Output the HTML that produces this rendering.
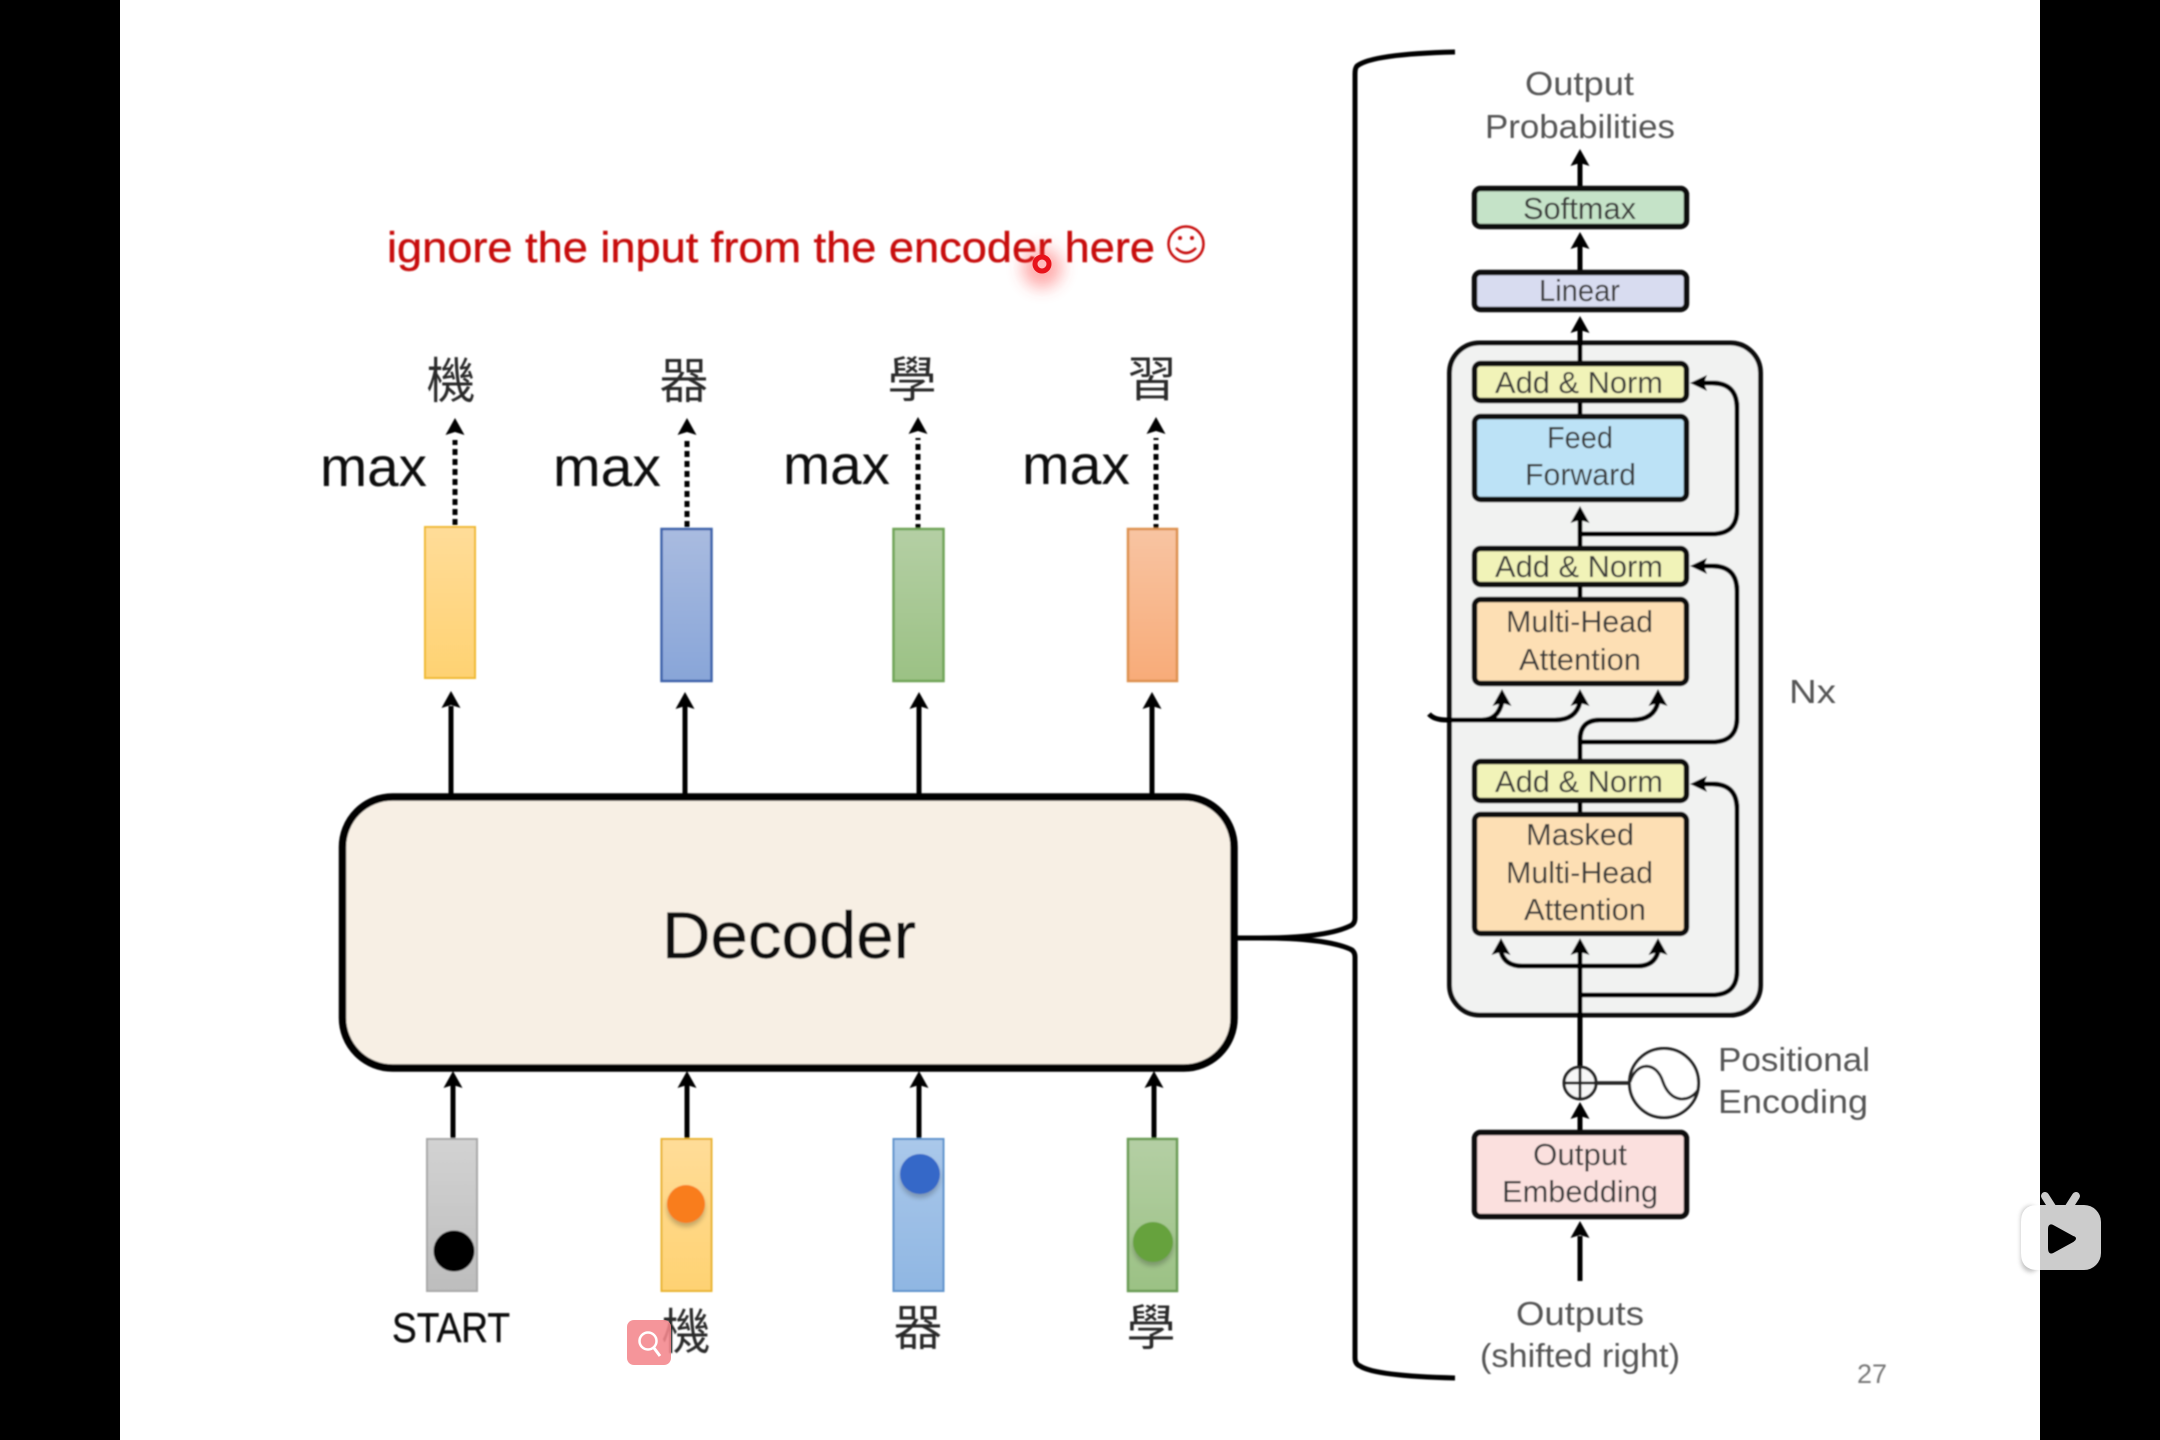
<!DOCTYPE html>
<html lang="zh-Hant"><head><meta charset="utf-8"><title>Decoder</title>
<style>html,body{margin:0;padding:0;background:#000}svg{display:block}
text{font-family:"Liberation Sans","Noto Sans CJK TC",sans-serif}
.t{font-size:31px;fill:#3a3a3a;text-anchor:start}
.cjk{font-family:"Noto Sans CJK TC","Noto Sans CJK JP",sans-serif;font-size:49px;fill:#2a2a2a;text-anchor:middle;font-weight:400}
.m{font-size:56px;fill:#111}
</style></head><body>
<svg xmlns="http://www.w3.org/2000/svg" width="2160" height="1440" viewBox="0 0 2160 1440">
<defs>
<path id="u" d="M0 0L9.500 17L0 14L-9.500 17Z" fill="#000"/>
<path id="l" d="M0 0L17 -8L14 0L17 8Z" fill="#000"/>
<filter id="b" x="-5%" y="-5%" width="110%" height="110%"><feGaussianBlur stdDeviation="0.9"/></filter>
<filter id="g" x="-100%" y="-100%" width="300%" height="300%"><feGaussianBlur stdDeviation="8"/></filter>
<filter id="s" x="-50%" y="-50%" width="200%" height="200%"><feGaussianBlur stdDeviation="2.500"/></filter>
<linearGradient id="gy" x1="0" y1="0" x2="0" y2="1"><stop offset="0" stop-color="#ffdc98"/><stop offset="1" stop-color="#fed272"/></linearGradient>
<linearGradient id="gb" x1="0" y1="0" x2="0" y2="1"><stop offset="0" stop-color="#a9bbe0"/><stop offset="1" stop-color="#88a5d8"/></linearGradient>
<linearGradient id="gg" x1="0" y1="0" x2="0" y2="1"><stop offset="0" stop-color="#b4cfa4"/><stop offset="1" stop-color="#9bc184"/></linearGradient>
<linearGradient id="go" x1="0" y1="0" x2="0" y2="1"><stop offset="0" stop-color="#f8c4a2"/><stop offset="1" stop-color="#f8ab78"/></linearGradient>
<linearGradient id="gc" x1="0" y1="0" x2="0" y2="1"><stop offset="0" stop-color="#d2d2d2"/><stop offset="1" stop-color="#bdbdbd"/></linearGradient>
<linearGradient id="gl" x1="0" y1="0" x2="0" y2="1"><stop offset="0" stop-color="#aac8ea"/><stop offset="1" stop-color="#8fb6e2"/></linearGradient>
</defs>
<rect width="2160" height="1440" fill="#000"/>
<rect x="120" width="1920" height="1440" fill="#fff"/>

<g filter="url(#b)">
<text x="387" y="262" font-size="43" fill="#c8100c" stroke="#c8100c" stroke-width=".4" textLength="768" lengthAdjust="spacingAndGlyphs">ignore the input from the encoder here</text>
<circle cx="1186" cy="244" r="17.500" fill="none" stroke="#c8100c" stroke-width="2.500"/>
<circle cx="1180" cy="238" r="2" fill="#c8100c"/><circle cx="1192" cy="238" r="2" fill="#c8100c"/>
<path d="M1176 248Q1186 258 1196 248" fill="none" stroke="#c8100c" stroke-width="2.500"/>

<text class="cjk" x="451" y="398">機</text>
<text class="cjk" x="684" y="398">器</text>
<text class="cjk" x="912" y="397">學</text>
<text class="cjk" x="1152" y="396">習</text>

<text class="m" x="320" y="486" textLength="107" lengthAdjust="spacingAndGlyphs">max</text>
<text class="m" x="553" y="486" textLength="108" lengthAdjust="spacingAndGlyphs">max</text>
<text class="m" x="783" y="484" textLength="107" lengthAdjust="spacingAndGlyphs">max</text>
<text class="m" x="1022" y="484" textLength="108" lengthAdjust="spacingAndGlyphs">max</text>

<g stroke="#000" stroke-width="5" stroke-dasharray="6 4" fill="none">
<path d="M455 525V440"/><path d="M687 527V440"/><path d="M918 530V438"/><path d="M1156 530V438"/>
</g>
<use href="#u" x="455" y="418"/><use href="#u" x="687" y="418"/><use href="#u" x="918" y="417"/><use href="#u" x="1156" y="417"/>

<rect x="425" y="527" width="50" height="151" fill="url(#gy)" stroke="#efb92e" stroke-width="2"/>
<rect x="661.500" y="529" width="50" height="152" fill="url(#gb)" stroke="#3e62aa" stroke-width="2.500"/>
<rect x="893.500" y="529" width="50" height="152" fill="url(#gg)" stroke="#6fa456" stroke-width="2.500"/>
<rect x="1128" y="529" width="49" height="152" fill="url(#go)" stroke="#dd9150" stroke-width="2.500"/>

<g stroke="#000" stroke-width="5" fill="none">
<path d="M451 800V706"/><path d="M685 800V706"/><path d="M919 800V706"/><path d="M1152 800V706"/>
<path d="M453 1138V1084"/><path d="M687 1142V1084"/><path d="M919 1142V1084"/><path d="M1154 1142V1084"/>
</g>
<use href="#u" x="451" y="691"/><use href="#u" x="685" y="692"/><use href="#u" x="919" y="692"/><use href="#u" x="1152" y="692"/>
<use href="#u" x="453" y="1071"/><use href="#u" x="687" y="1071"/><use href="#u" x="919" y="1071"/><use href="#u" x="1154" y="1071"/>

<rect x="342.500" y="797" width="891.500" height="271" rx="50" fill="#f7efe4" stroke="#000" stroke-width="7.500"/>
<text x="662" y="958" font-size="66" fill="#111" stroke="#111" stroke-width=".5" textLength="254" lengthAdjust="spacingAndGlyphs">Decoder</text>

<rect x="427" y="1139" width="50" height="152" fill="url(#gc)" stroke="#a8a8a8" stroke-width="2"/>
<rect x="661.500" y="1139" width="50" height="152" fill="url(#gy)" stroke="#e9b32e" stroke-width="2"/>
<rect x="893.500" y="1139" width="50" height="152" fill="url(#gl)" stroke="#5f93cc" stroke-width="2"/>
<rect x="1128" y="1139" width="49" height="152" fill="url(#gg)" stroke="#6b9b54" stroke-width="2.500"/>
<circle cx="686" cy="1208" r="19" fill="#000" opacity=".22" filter="url(#s)"/>
<circle cx="920" cy="1178" r="20" fill="#000" opacity=".22" filter="url(#s)"/>
<circle cx="1153" cy="1246" r="20" fill="#000" opacity=".22" filter="url(#s)"/>
<circle cx="454" cy="1251" r="20.500" fill="#000"/>
<circle cx="686" cy="1204" r="19" fill="#f97d1e"/>
<circle cx="920" cy="1174" r="20" fill="#3568c8"/>
<circle cx="1153" cy="1242" r="20" fill="#66a23c"/>

<text x="392" y="1342" font-size="42" fill="#111" stroke="#111" stroke-width=".4" textLength="118" lengthAdjust="spacingAndGlyphs">START</text>
<text class="cjk" x="686" y="1349">機</text>
<text class="cjk" x="918" y="1345">器</text>
<text class="cjk" x="1151" y="1345">學</text>

<path d="M1455 52Q1372 54 1357 66Q1355 68 1355 74V918Q1355 924 1350 926Q1325 938 1260 938H1237M1240 938H1260Q1325 938 1350 949Q1355 951 1355 957V1358Q1355 1364 1360 1366Q1375 1376 1455 1378" fill="none" stroke="#000" stroke-width="5"/>

<rect x="1449.500" y="343" width="311" height="672" rx="30" fill="#f1f2f1" stroke="#111" stroke-width="5"/>

<g fill="none" stroke="#000" stroke-width="5">
<path d="M1580 186V162"/><path d="M1580 270V246"/><path d="M1580 361V329"/>
<path d="M1580 414V403"/><path d="M1580 546V519"/><path d="M1580 597V587"/>
<path d="M1580 812V803"/><path d="M1580 1066V952"/><path d="M1580 1131V1115"/><path d="M1580 1281V1236"/>
<path d="M1580 534H1712Q1737 534 1737 510V408Q1737 383 1712 383H1700"/>
<path d="M1580 742H1712Q1737 742 1737 718V591Q1737 566 1712 566H1700"/>
<path d="M1580 995H1712Q1737 995 1737 971V809Q1737 784 1712 784H1700"/>
<path d="M1580 759V740Q1580 720 1600 720H1632Q1654 720 1658 702"/>
<path d="M1429 714Q1434 720 1447 720H1555Q1576 720 1580 702"/>
<path d="M1472 720H1482Q1498 720 1502 702"/>
<path d="M1501 952Q1505 966 1522 966H1638Q1654 966 1658 952"/>
</g>
<use href="#u" x="1580" y="149"/><use href="#u" x="1580" y="232"/><use href="#u" x="1580" y="316"/><use href="#u" x="1580" y="506"/>
<use href="#u" x="1502" y="689"/><use href="#u" x="1580" y="689"/><use href="#u" x="1658" y="689"/>
<use href="#u" x="1501" y="938"/><use href="#u" x="1580" y="938"/><use href="#u" x="1658" y="938"/>
<use href="#u" x="1580" y="1102"/><use href="#u" x="1580" y="1221"/>
<use href="#l" x="1690" y="383"/><use href="#l" x="1690" y="566"/><use href="#l" x="1690" y="784"/>

<g stroke="#111" stroke-width="5.500">
<rect x="1474.500" y="188.500" width="212" height="38" rx="6" fill="#c5e3c8"/>
<rect x="1474.500" y="272.500" width="212" height="37" rx="6" fill="#d8dcf0"/>
<rect x="1474.500" y="363.500" width="212" height="37" rx="6" fill="#f1f3b8"/>
<rect x="1474.500" y="416.500" width="212" height="83" rx="6" fill="#bce2f6"/>
<rect x="1474.500" y="548.500" width="212" height="36" rx="6" fill="#f1f3b8"/>
<rect x="1474.500" y="599.500" width="212" height="84" rx="6" fill="#fddfb4"/>
<rect x="1474.500" y="761.500" width="212" height="39" rx="6" fill="#f1f3b8"/>
<rect x="1474.500" y="814.500" width="212" height="119" rx="6" fill="#fddfb4"/>
<rect x="1474.500" y="1132.500" width="212" height="84" rx="6" fill="#fbe0de"/>
</g>

<circle cx="1580" cy="1083" r="16" fill="#f6f6f6" stroke="#222" stroke-width="3"/>
<path d="M1580 1067V1099M1564 1083H1596" stroke="#222" stroke-width="3" fill="none"/>
<path d="M1597 1083H1629" stroke="#222" stroke-width="3.500" fill="none"/>
<circle cx="1664" cy="1083" r="34.500" fill="#fff" stroke="#222" stroke-width="3"/>
<path d="M1630 1082C1636 1062 1656 1060 1663 1082C1670 1102 1688 1104 1698 1090" fill="none" stroke="#222" stroke-width="3"/>

<g>
<text class="t" style="font-size:33px;fill:#555" x="1525" y="95" textLength="109" lengthAdjust="spacingAndGlyphs">Output</text>
<text class="t" style="font-size:33px;fill:#555" x="1485" y="138" textLength="190" lengthAdjust="spacingAndGlyphs">Probabilities</text>
<text class="t" x="1523" y="219" textLength="113" lengthAdjust="spacingAndGlyphs">Softmax</text>
<text class="t" x="1539" y="301" textLength="81" lengthAdjust="spacingAndGlyphs">Linear</text>
<text class="t" x="1495" y="393" textLength="168" lengthAdjust="spacingAndGlyphs">Add &amp; Norm</text>
<text class="t" x="1547" y="448" textLength="66" lengthAdjust="spacingAndGlyphs">Feed</text>
<text class="t" x="1525" y="485" textLength="111" lengthAdjust="spacingAndGlyphs">Forward</text>
<text class="t" x="1495" y="577" textLength="168" lengthAdjust="spacingAndGlyphs">Add &amp; Norm</text>
<text class="t" x="1506" y="632" textLength="147" lengthAdjust="spacingAndGlyphs">Multi-Head</text>
<text class="t" x="1519" y="670" textLength="122" lengthAdjust="spacingAndGlyphs">Attention</text>
<text class="t" x="1495" y="792" textLength="168" lengthAdjust="spacingAndGlyphs">Add &amp; Norm</text>
<text class="t" x="1526" y="845" textLength="108" lengthAdjust="spacingAndGlyphs">Masked</text>
<text class="t" x="1506" y="883" textLength="147" lengthAdjust="spacingAndGlyphs">Multi-Head</text>
<text class="t" x="1524" y="920" textLength="122" lengthAdjust="spacingAndGlyphs">Attention</text>
<text class="t" x="1533" y="1165" textLength="94" lengthAdjust="spacingAndGlyphs">Output</text>
<text class="t" x="1502" y="1202" textLength="156" lengthAdjust="spacingAndGlyphs">Embedding</text>
<text class="t" style="font-size:33px;fill:#555" x="1718" y="1071" textLength="152" lengthAdjust="spacingAndGlyphs">Positional</text>
<text class="t" style="font-size:33px;fill:#555" x="1718" y="1113" textLength="150" lengthAdjust="spacingAndGlyphs">Encoding</text>
<text class="t" style="font-size:33px;fill:#555" x="1516" y="1325" textLength="128" lengthAdjust="spacingAndGlyphs">Outputs</text>
<text class="t" style="font-size:33px;fill:#555" x="1480" y="1367" textLength="200" lengthAdjust="spacingAndGlyphs">(shifted right)</text>
<text class="t" style="font-size:33px;fill:#555" x="1789" y="703" textLength="47" lengthAdjust="spacingAndGlyphs">Nx</text>
<text x="1857" y="1383" font-size="27" fill="#777" textLength="30" lengthAdjust="spacingAndGlyphs">27</text>
</g>
</g>

<circle cx="1042" cy="268" r="20" fill="#ff3030" opacity=".4" filter="url(#g)"/>
<circle cx="1042" cy="264" r="7" fill="#fbb" stroke="#e8121a" stroke-width="5"/>

<rect x="627" y="1320" width="44" height="45" rx="7" fill="#f4868c" opacity=".88"/>
<circle cx="648" cy="1341" r="8.500" fill="none" stroke="#fff" stroke-width="2.500"/>
<path d="M654 1348L660 1356" stroke="#fff" stroke-width="3" fill="none"/>

<rect x="2021" y="1206" width="19" height="66" rx="12" fill="#000" opacity=".25" filter="url(#s)"/>
<rect x="2021" y="1205" width="80" height="65" rx="17" fill="#ccc"/>
<path d="M2040 1205H2038Q2021 1205 2021 1222V1253Q2021 1270 2038 1270H2040Z" fill="#fff"/>
<path d="M2045 1196L2052 1207M2076 1196L2069 1207" stroke="#ccc" stroke-width="8" stroke-linecap="round" fill="none"/>
<path d="M2053 1226L2073 1237Q2077 1238 2073 1241L2053 1252Q2049 1254 2049 1248V1229Q2049 1224 2053 1226Z" fill="#000" stroke="#000" stroke-width="2"/>
</svg>
</body></html>
